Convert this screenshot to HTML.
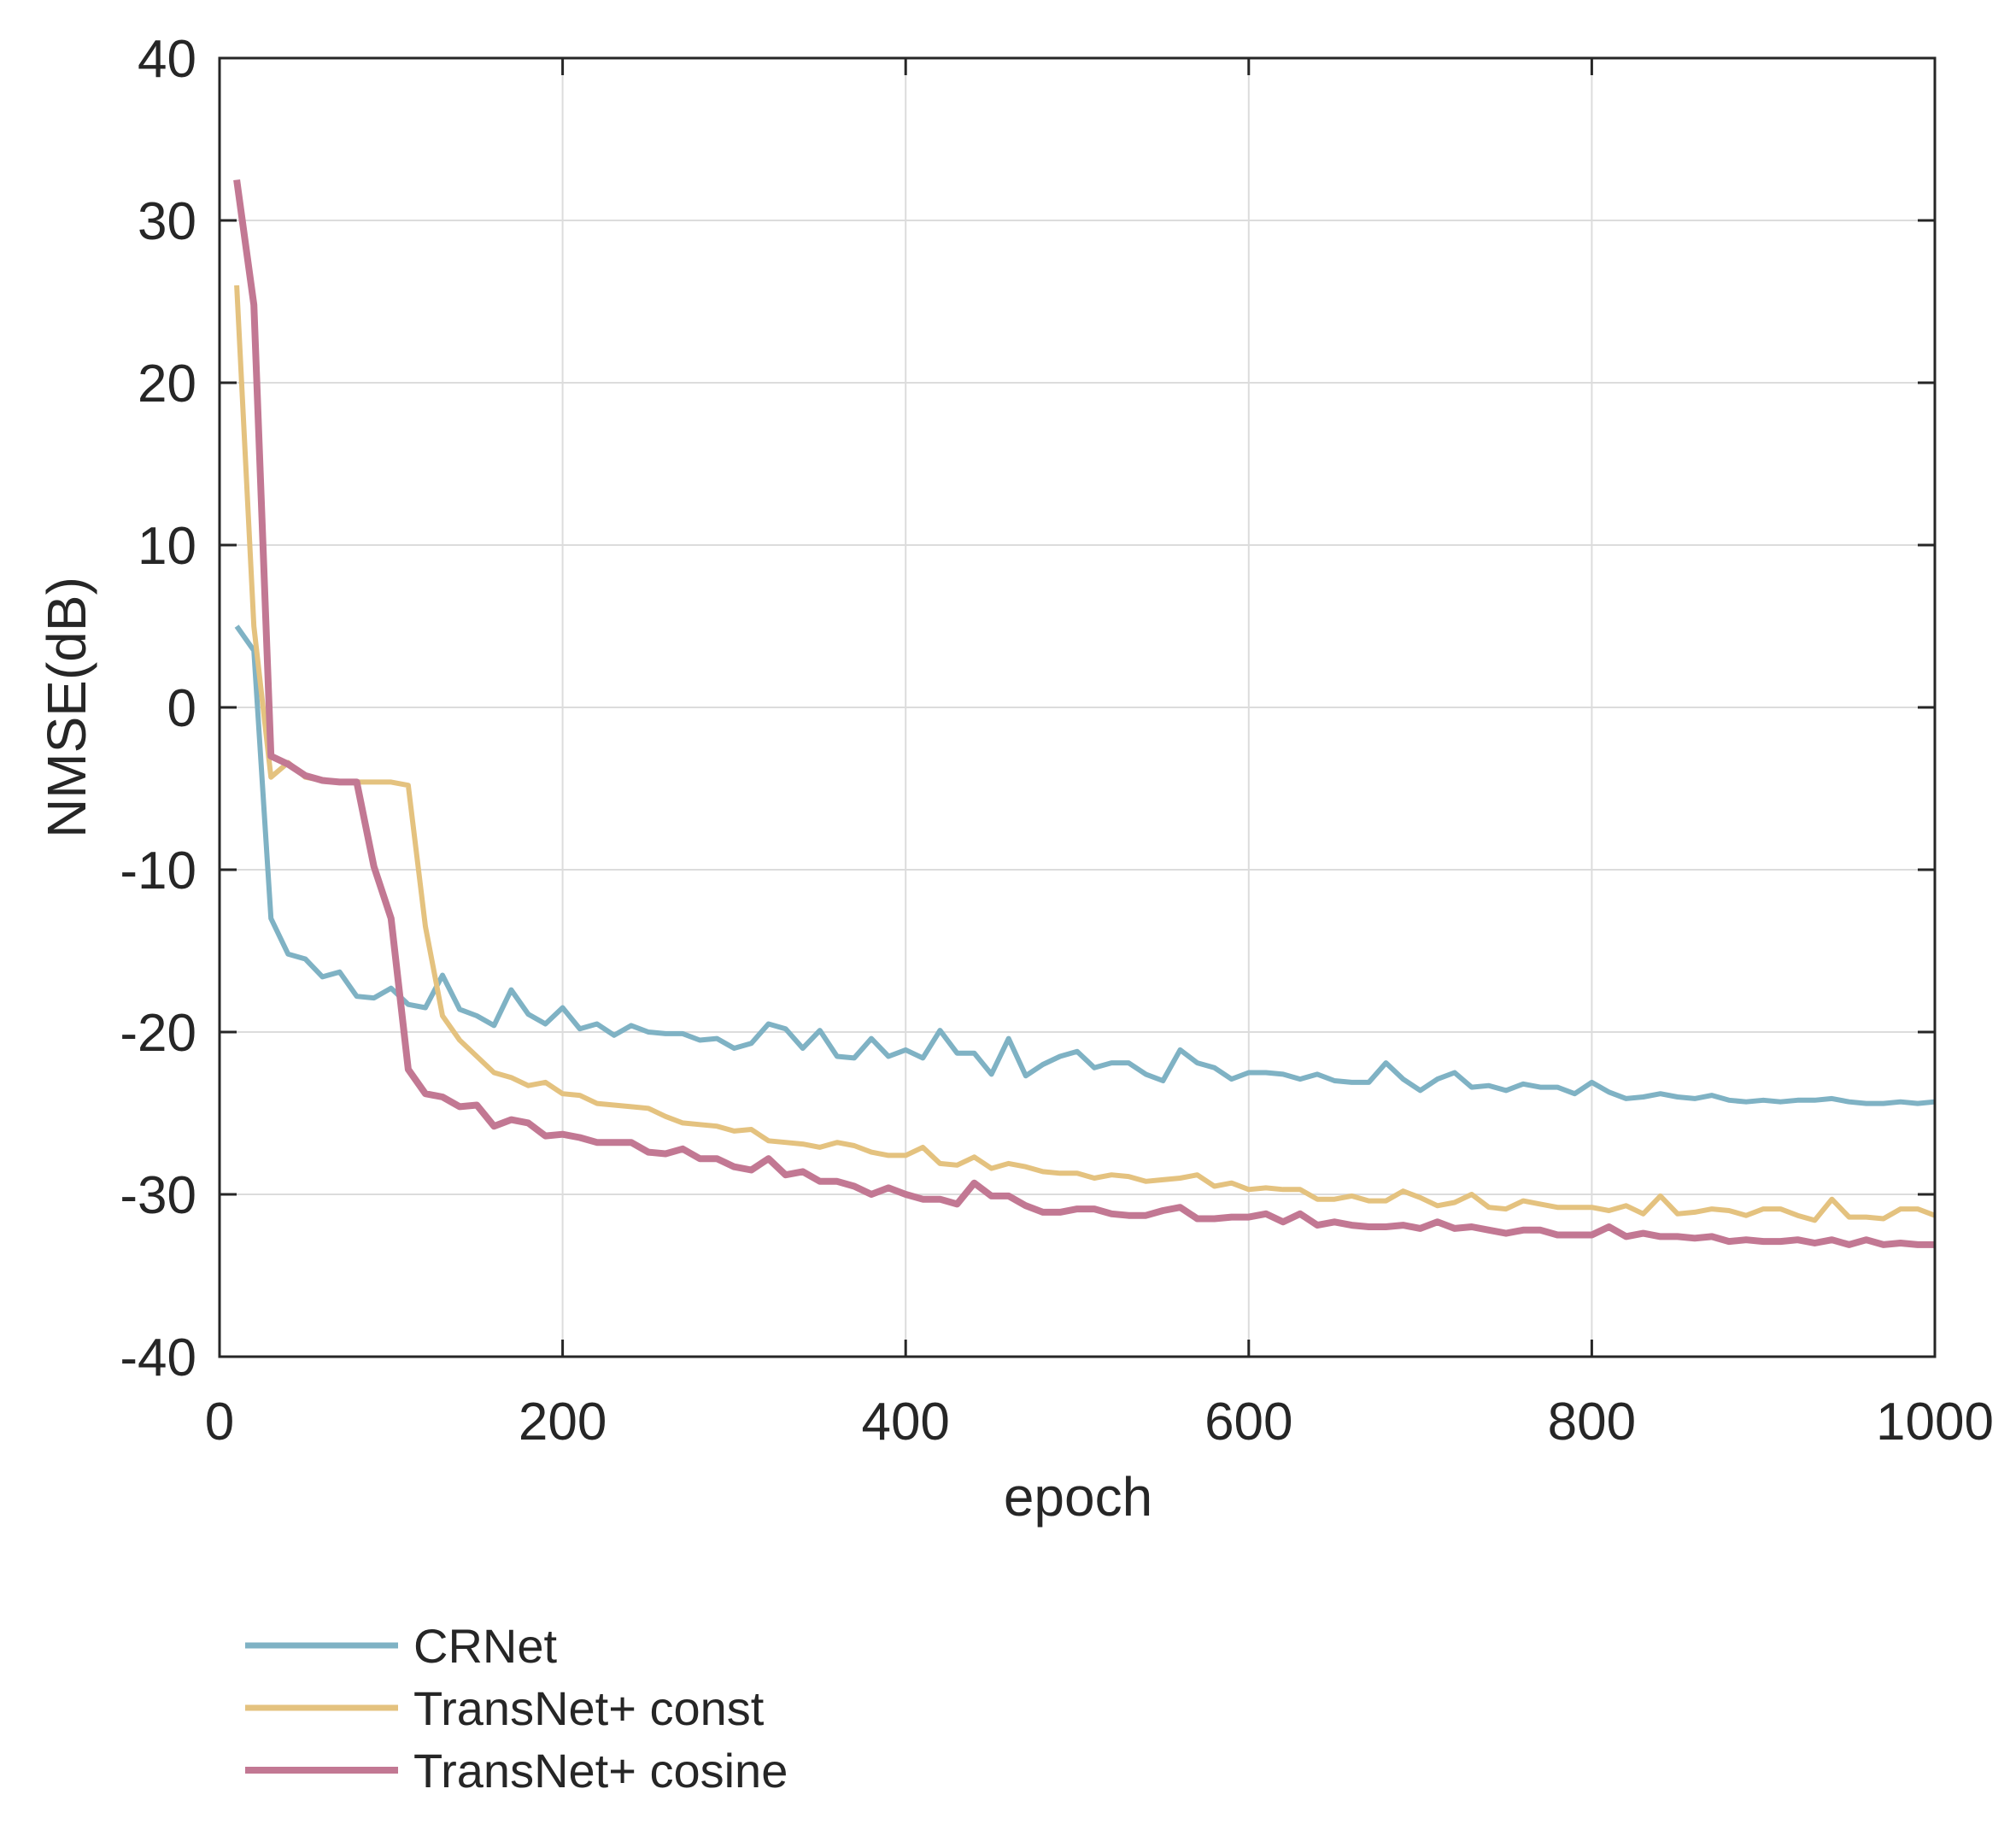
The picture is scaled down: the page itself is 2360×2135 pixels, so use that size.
<!DOCTYPE html>
<html><head><meta charset="utf-8"><style>
html,body{margin:0;padding:0;background:#fff;}
svg{display:block;}
text{font-family:"Liberation Sans",Arial,sans-serif;fill:#262626;}
</style></head><body>
<svg id="s" width="2360" height="2135" viewBox="0 0 2360 2135" xmlns="http://www.w3.org/2000/svg">
<g id="grid" stroke="#dcdcdc" stroke-width="2"></g>
<g id="series" fill="none" stroke-linejoin="round"></g>
<rect x="257" y="68" width="2008" height="1520" fill="none" stroke="#262626" stroke-width="3"/>
<g id="ticks" stroke="#262626" stroke-width="3"></g>
<g id="labels" font-size="62"></g>
<text x="1262" y="1774" font-size="64" text-anchor="middle">epoch</text>
<text transform="translate(100,828) rotate(-90)" font-size="64" text-anchor="middle">NMSE(dB)</text>
<line x1="287" y1="1926" x2="466" y2="1926" stroke="#7fb2c4" stroke-width="7"/>
<line x1="287" y1="1999" x2="466" y2="1999" stroke="#e4c27f" stroke-width="7"/>
<line x1="287" y1="2072" x2="466" y2="2072" stroke="#c27893" stroke-width="8"/>
<text x="484" y="1946" font-size="56" fill="#000">CRNet</text>
<text x="484" y="2019" font-size="56" fill="#000">TransNet+ const</text>
<text x="484" y="2092" font-size="56" fill="#000">TransNet+ cosine</text>
</svg>
<script>
var NS="http://www.w3.org/2000/svg";
function X(e){return 257+e*2.008;}
function Y(v){return 828-v*19.0;}
function el(p,t,a){var n=document.createElementNS(NS,t);for(var k in a)n.setAttribute(k,a[k]);p.appendChild(n);return n;}
var g=document.getElementById('grid'),tk=document.getElementById('ticks'),lb=document.getElementById('labels');
for(var e=200;e<1000;e+=200){el(g,'line',{x1:X(e),y1:68,x2:X(e),y2:1588});}
for(var v=-30;v<=30;v+=10){el(g,'line',{x1:257,y1:Y(v),x2:2265,y2:Y(v)});}
for(var e=0;e<=1000;e+=200){el(tk,'line',{x1:X(e),y1:1588,x2:X(e),y2:1568});el(tk,'line',{x1:X(e),y1:68,x2:X(e),y2:88});
 var t=el(lb,'text',{x:X(e),y:1685,'text-anchor':'middle'});t.textContent=e;}
for(var v=-40;v<=40;v+=10){el(tk,'line',{x1:257,y1:Y(v),x2:277,y2:Y(v)});el(tk,'line',{x1:2265,y1:Y(v),x2:2245,y2:Y(v)});
 var t=el(lb,'text',{x:230,y:Y(v)+22,'text-anchor':'end'});t.textContent=v;}
var cr=[5,3.5,-13,-15.2,-15.5,-16.6,-16.3,-17.8,-17.9,-17.3,-18.3,-18.5,-16.5,-18.6,-19,-19.6,-17.4,-18.9,-19.5,-18.5,-19.8,-19.5,-20.2,-19.6,-20,-20.1,-20.1,-20.5,-20.4,-21,-20.7,-19.5,-19.8,-21,-19.9,-21.5,-21.6,-20.4,-21.5,-21.1,-21.6,-19.9,-21.3,-21.3,-22.6,-20.4,-22.7,-22,-21.5,-21.2,-22.2,-21.9,-21.9,-22.6,-23,-21.1,-21.9,-22.2,-22.9,-22.5,-22.5,-22.6,-22.9,-22.6,-23,-23.1,-23.1,-21.9,-22.9,-23.6,-22.9,-22.5,-23.4,-23.3,-23.6,-23.2,-23.4,-23.4,-23.8,-23.1,-23.7,-24.1,-24,-23.8,-24,-24.1,-23.9,-24.2,-24.3,-24.2,-24.3,-24.2,-24.2,-24.1,-24.3,-24.4,-24.4,-24.3,-24.4,-24.3];
var co=[26,5,-4.3,-3.4,-4.3,-4.5,-4.6,-4.6,-4.6,-4.6,-4.8,-13.5,-19,-20.5,-21.5,-22.5,-22.8,-23.3,-23.1,-23.8,-23.9,-24.4,-24.5,-24.6,-24.7,-25.2,-25.6,-25.7,-25.8,-26.1,-26,-26.7,-26.8,-26.9,-27.1,-26.8,-27,-27.4,-27.6,-27.6,-27.1,-28.1,-28.2,-27.7,-28.4,-28.1,-28.3,-28.6,-28.7,-28.7,-29,-28.8,-28.9,-29.2,-29.1,-29,-28.8,-29.5,-29.3,-29.7,-29.6,-29.7,-29.7,-30.3,-30.3,-30.1,-30.4,-30.4,-29.8,-30.2,-30.7,-30.5,-30,-30.8,-30.9,-30.4,-30.6,-30.8,-30.8,-30.8,-31,-30.7,-31.2,-30.1,-31.2,-31.1,-30.9,-31,-31.3,-30.9,-30.9,-31.3,-31.6,-30.3,-31.4,-31.4,-31.5,-30.9,-30.9,-31.3];
var cs=[32.5,24.8,-3,-3.5,-4.2,-4.5,-4.6,-4.6,-9.8,-13,-22.3,-23.8,-24,-24.6,-24.5,-25.8,-25.4,-25.6,-26.4,-26.3,-26.5,-26.8,-26.8,-26.8,-27.4,-27.5,-27.2,-27.8,-27.8,-28.3,-28.5,-27.8,-28.8,-28.6,-29.2,-29.2,-29.5,-30,-29.6,-30,-30.3,-30.3,-30.6,-29.3,-30.1,-30.1,-30.7,-31.1,-31.1,-30.9,-30.9,-31.2,-31.3,-31.3,-31,-30.8,-31.5,-31.5,-31.4,-31.4,-31.2,-31.7,-31.2,-31.9,-31.7,-31.9,-32,-32,-31.9,-32.1,-31.7,-32.1,-32,-32.2,-32.4,-32.2,-32.2,-32.5,-32.5,-32.5,-32,-32.6,-32.4,-32.6,-32.6,-32.7,-32.6,-32.9,-32.8,-32.9,-32.9,-32.8,-33,-32.8,-33.1,-32.8,-33.1,-33,-33.1,-33.1];
var sg=document.getElementById('series');
function pl(d,c,w){var p=d.map(function(v,i){return X((i+1)*10).toFixed(1)+','+Y(v).toFixed(1);}).join(' ');el(sg,'polyline',{points:p,stroke:c,'stroke-width':w});}
pl(cr,'#7fb2c4',6);pl(co,'#e4c27f',6);pl(cs,'#c27893',8);
</script>
</body></html>
